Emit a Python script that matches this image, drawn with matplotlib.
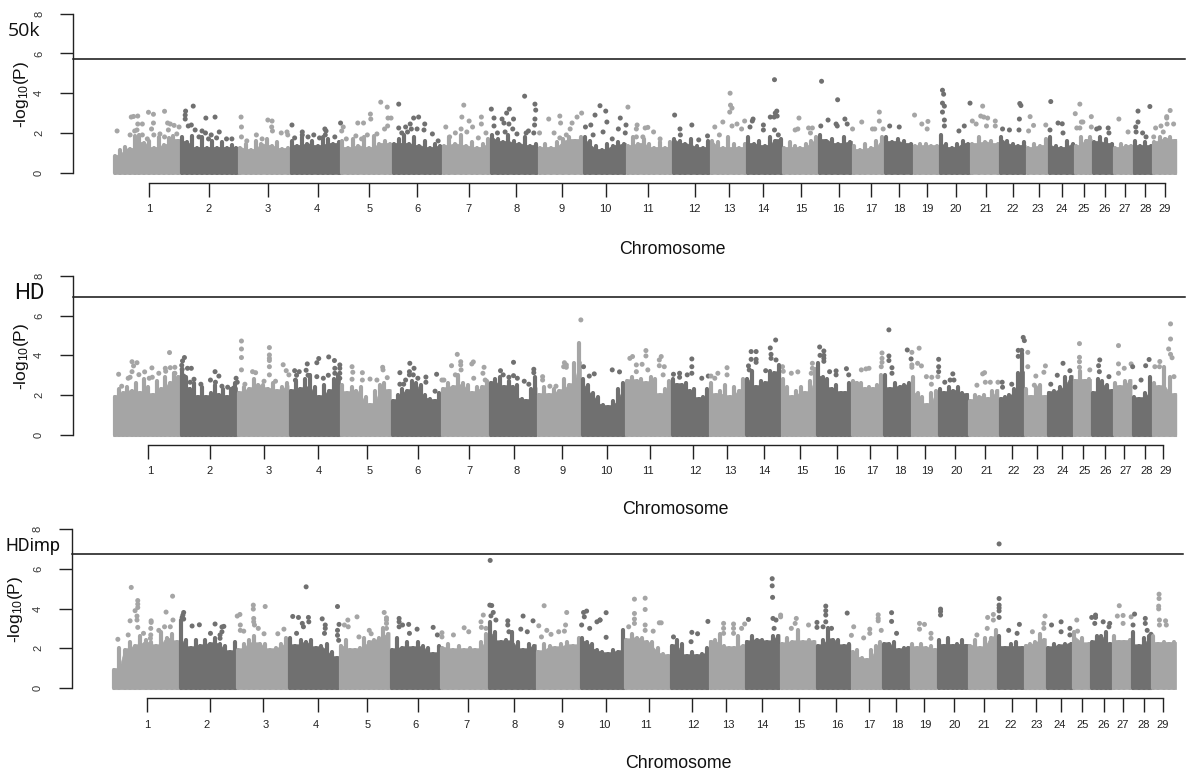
import matplotlib
matplotlib.use('Agg')
import matplotlib.pyplot as plt
import numpy as np

plt.rcParams['font.family'] = ['Liberation Sans', 'DejaVu Sans']
plt.rcParams['mathtext.default'] = 'regular'

LIGHT = '#a5a5a5'
DARK = '#707070'
chrom_names = [str(c) for c in range(1, 30)]

# chromosome limits, ticks and tick label spots (position units along the genome)
bounds_50k = [296,471,623,757,890,1024,1155,1281,1405,1523,1636,1756,1856,1951,2045,2138,2227,2310,2385,2454,2536,2612,2681,2739,2808,2854,2910,2961,3012,3075]
bounds_hd = [295,470,620,755,889,1022,1153,1278,1403,1519,1634,1754,1853,1948,2040,2134,2225,2308,2381,2451,2531,2610,2677,2736,2804,2852,2910,2958,3011,3075]
bounds_imp = [293,468,618,753,886,1019,1151,1275,1401,1517,1632,1751,1852,1946,2038,2132,2223,2306,2379,2449,2530,2607,2676,2734,2803,2850,2906,2957,3009,3073]

ticks_50k = [390,545,700,830,965,1091,1225,1349,1469,1583,1693,1815,1906,1995,2093,2192,2276,2349,2422,2499,2576,2647,2714,2775,2834,2888,2940,2991,3044]
ticks_hd = [387,550,690,832,960,1093,1225,1344,1468,1585,1698,1810,1901,1997,2091,2188,2273,2345,2417,2496,2575,2645,2710,2775,2831,2887,2938,2992,3040]
ticks_imp = [385,549,687,831,959,1092,1223,1343,1469,1583,1696,1809,1898,1992,2088,2186,2272,2342,2415,2494,2572,2644,2707,2772,2828,2885,2935,2990,3038]

labels_50k = [390,544,700,829,965,1090,1225,1349,1468,1583,1693,1815,1906,1995,2093,2191,2276,2349,2422,2498,2575,2647,2713,2774,2833,2887,2939,2995,3043]
labels_hd = [392,547,701,832,967,1092,1226,1351,1471,1585,1694,1817,1908,1998,2096,2194,2279,2352,2424,2500,2578,2649,2715,2776,2835,2889,2941,2997,3045]
labels_imp = [385,541,695,825,961,1087,1220,1345,1464,1580,1687,1811,1903,1991,2089,2188,2272,2346,2418,2494,2570,2642,2708,2770,2830,2883,2934,2989,3039]

# height of the cloud in each chromosome, left to right
mass_50k = [
 [.9,1.2,1.35,1.25,1.95,2.0,1.55,1.7,1.3,1.9,1.45,1.85,1.95,1.7],[1.9,1.6,1.95,1.3,1.9,1.3,1.7,1.3,1.6,1.3,1.45,1.3],
 [1.3,1.5,1.2,1.7,1.5,1.8,1.4,1.6,1.25,1.3],[1.7,1.4,1.9,1.5,1.7,1.4,1.9,1.8,1.5,1.6],[1.7,1.3,1.8,1.4,1.9,1.3,1.95,1.5,1.7,1.5],
 [1.5,1.8,2.0,1.5,1.9,1.4,1.7,1.3,1.5,1.4],[1.4,1.9,1.5,2.0,1.4,1.6,1.3,1.5,1.8],[2.0,1.8,1.6,2.0,1.7,1.5,1.9,1.4,1.5],
 [1.3,1.5,1.3,1.6,1.8,1.9,1.7,1.9],[1.9,1.7,1.4,1.2,1.5,1.4,1.6,1.5],[1.4,1.9,1.5,1.8,1.5,1.3,1.6,1.3,1.6],
 [1.8,1.7,1.5,1.8,1.4,1.3,1.7],[1.7,1.6,1.3,1.9,1.5,1.3,1.5],[1.9,1.5,1.7,1.4,1.9,1.7,1.8],[1.3,1.6,1.4,1.3,1.5,1.7,1.9],
 [2.0,1.7,1.8,1.5,1.9,1.6],[1.4,1.2,1.5,1.3,1.7,1.9],[1.9,1.6,1.8,1.7,1.5],[1.4,1.5,1.5,1.4,1.4],[2.0,1.5,1.3,1.5,1.7,1.5],
 [1.5,1.9,1.6,1.7,1.5],[1.9,1.7,1.5,1.4,1.6],[1.3,1.5,1.4,1.8],[1.9,1.4,1.3,1.7,1.5],[1.4,1.9,1.7,1.9],[1.6,1.9,1.8,1.5],
 [1.3,1.5,1.4,1.4],[1.7,1.4,1.6,1.4],[1.6,1.9,1.8,1.9,1.7]]
mass_hd = [
 [2.0,2.4,2.2,2.5,2.3,2.7,2.2,2.9,2.5,2.1,2.8,2.4,3.0,2.7,3.2,3.0],[3.4,3.0,2.4,2.7,2.0,2.5,2.0,2.2,2.6,2.1,2.4,2.0,2.4,2.7],
 [2.2,2.5,2.4,2.9,2.6,2.6,2.4,2.7,2.3,2.5,2.7],[2.3,2.8,2.4,2.9,3.1,2.5,2.0,2.6,2.3,2.9,3.1],
 [2.6,2.2,2.5,2.3,2.5,2.0,1.6,2.3,2.6,2.7,2.3],[1.8,2.1,2.4,2.3,2.8,2.7,2.6,2.1,1.9,1.8,2.2],
 [2.4,2.7,2.5,3.1,2.7,2.6,2.2,2.5,2.5,2.8],[2.7,2.9,3.0,2.5,2.8,2.5,2.6,1.9,1.8,2.4,3.0],
 [2.1,2.5,2.1,2.4,2.3,2.9,2.6,3.7,4.7],[2.9,2.6,2.2,2.0,1.6,1.5,1.8,2.4,2.7],
 [2.8,3.0,2.8,2.9,2.7,3.0,2.9,2.1,2.4,2.8],[2.9,2.6,2.6,2.7,2.3,2.4,1.9,2.0,2.4],
 [2.7,2.1,2.3,2.6,2.0,2.5,2.3,2.9],[2.9,3.3,2.5,2.8,2.7,3.3,3.2,3.6],[2.9,2.5,2.0,2.3,2.5,2.2,2.8,3.4],
 [3.7,3.0,2.9,2.4,2.6,2.2,2.2,2.7],[2.8,2.7,2.7,2.4,2.5,2.4,2.6,3.1],[3.1,2.4,2.7,2.5,2.6,2.7],
 [3.0,2.2,2.0,1.6,2.2,2.3],[2.4,2.2,2.5,2.3,2.5,2.2,2.1],[1.8,2.1,2.0,2.1,1.9,2.3,2.3],
 [1.9,2.0,2.1,2.4,3.2,4.2],[2.4,2.0,2.5,2.6,2.0],[2.2,2.3,2.5,3.0,3.0],[2.8,3.3,2.8,2.9],
 [2.2,2.9,2.8,2.6,2.3],[2.7,2.5,2.8,2.8],[2.0,1.9,2.2,3.0],[2.7,2.5,3.5,3.0,2.1]]
mass_imp = [
 [1.0,2.1,2.0,2.4,2.2,2.7,2.5,2.4,2.2,2.9,2.6,2.8,2.4],[3.5,2.5,2.1,2.5,2.2,2.5,2.3,2.6,2.3,2.2,1.9,2.4],
 [2.0,2.3,2.5,2.7,2.3,2.3,2.0,2.1,2.3,2.6],[2.6,2.2,2.5,2.4,2.5,2.1,2.2,2.3,1.9,1.6],
 [2.2,2.5,2.0,2.0,2.1,2.6,2.4,2.5,2.6,3.1,2.8],[2.0,2.6,2.1,2.4,2.1,2.4,2.2,2.1,1.8,2.2],
 [2.1,2.3,2.0,2.2,2.0,2.1,2.0,2.4,2.8],[3.4,2.9,2.4,2.5,2.9,2.4,2.0,2.3,2.2],
 [1.9,2.3,2.2,2.1,2.3,2.4,2.2,2.6],[2.6,2.4,2.3,2.0,1.9,1.8,2.0,1.9,3.0],
 [2.5,2.8,2.6,2.6,2.4,2.4,2.1,1.8,1.7],[2.2,2.5,2.3,1.7,1.9,1.7,1.8,2.1],[2.4,2.5,2.8,2.2,2.1,2.1,2.7,2.2],
 [2.4,2.7,2.5,2.5,2.4,2.7,2.7],[2.3,2.6,2.4,3.0,2.4,2.5,2.4],[2.2,2.5,3.1,2.5,2.5,2.2,2.3],
 [1.9,2.0,1.6,1.5,2.0,2.2,2.4],[2.3,2.3,2.4,2.0,2.1,2.1],[2.3,2.1,2.3,2.1,2.2,2.0],[2.5,2.2,2.6,2.2,2.3,2.5,2.2],
 [2.2,2.5,2.1,2.6,2.6,3.0],[2.7,2.1,2.3,2.4,2.1],[2.2,2.3,2.4,2.8,2.5],[2.1,2.3,2.2,2.3,2.3],[2.9,2.6,2.3],
 [2.4,2.7,2.7,2.9,2.3],[2.7,2.4,2.4,2.5],[2.9,2.2,2.6,2.7],[2.7,2.3,2.4,2.3,2.4]]

# single SNPs standing above the cloud: (position, -log10 P)
hits_50k = [(306,2.1),(343,2.8),(349,2.83),(360,2.85),(388,3.04),(401,2.94),(430,3.09),(360,2.45),(372,2.45),(401,2.5),(396,2.2),(438,2.5),(445,2.45),(455,2.38),(468,2.3),(440,2.15),
 (340,1.9),(352,2.1),(358,2.15),(372,1.9),(385,1.7),(402,1.9),(418,1.95),(430,1.8),(450,1.7),(462,1.95),
 (485,3.1),(484,2.9),(484,2.7),(505,3.35),(538,2.75),(562,2.8),(492,2.35),(500,2.4),(510,2.15),(528,2.1),(537,2.0),(552,1.9),(573,2.05),(592,1.7),(606,1.7),(520,1.8),(545,1.7),(566,1.75),
 (630,2.8),(631,2.3),(631,1.8),(700,2.65),(711,2.6),(710,2.3),(712,2.1),(735,2.0),(750,2.05),(752,1.9),(670,1.9),(645,1.6),(685,1.7),
 (763,2.4),(790,2.05),(790,1.9),(820,1.9),(849,2.2),(852,2.1),(850,1.9),(890,2.5),(897,2.3),(893,2.1),(875,1.8),(770,1.75),(805,1.8),(835,1.75),
 (935,2.5),(950,2.5),(968,2.95),(969,2.7),(995,3.55),(1012,3.3),(1014,2.75),(1022,2.75),(1013,2.35),(1005,2.2),(905,1.7),(930,1.85),(960,1.9),(985,1.95),(945,1.7),
 (1042,3.45),(1042,2.25),(1060,2.3),(1072,2.45),(1081,2.75),(1094,2.8),(1110,2.45),(1108,2.15),(1130,1.95),(1090,2.2),(1050,2.0),(1065,2.05),(1075,2.2),(1145,1.6),
 (1212,3.4),(1207,2.8),(1226,2.6),(1235,2.3),(1258,2.8),(1258,2.45),(1165,2.3),(1190,2.0),(1205,2.2),(1220,2.05),(1270,2.0),(1175,1.8),(1250,1.75),
 (1284,3.2),(1291,2.75),(1291,2.35),(1331,3.2),(1324,3.0),(1312,2.7),(1342,2.7),(1317,2.5),(1330,2.45),(1340,2.2),(1351,1.95),(1371,3.85),(1398,3.45),(1400,3.15),(1398,2.7),(1397,2.4),(1381,2.1),(1395,2.0),(1410,2.0),(1375,2.0),(1300,2.0),(1320,2.05),
 (1434,2.7),(1463,2.85),(1520,3.0),(1508,2.8),(1495,2.5),(1465,2.5),(1448,2.0),(1463,1.75),(1490,2.2),(1480,1.9),
 (1555,2.9),(1568,3.37),(1544,2.4),(1530,2.3),(1583,3.1),(1586,2.55),(1621,2.75),(1616,2.2),(1636,2.4),(1634,2.0),(1576,2.05),(1550,1.9),(1600,1.7),
 (1641,3.3),(1665,2.4),(1686,2.25),(1693,2.28),(1708,2.05),(1663,2.2),(1663,1.8),(1680,1.8),(1725,1.7),
 (1763,2.9),(1777,2.2),(1808,2.4),(1778,1.9),(1849,1.85),(1826,1.65),(1908,4.0),(1909,3.4),(1913,3.25),(1907,3.05),(1868,2.3),(1889,2.55),(1913,2.35),(1926,2.45),(1946,2.6),(1938,2.2),(1880,1.9),
 (1968,2.7),(1966,2.6),(1960,2.3),(1995,2.4),(1995,2.15),(2024,4.68),(2030,3.1),(2026,3.0),(2031,2.85),(2023,2.8),(2013,2.8),(2024,2.15),(2034,1.9),
 (2088,2.75),(2078,2.15),(2085,2.2),(2113,2.25),(2123,2.25),(2118,2.0),(2147,4.6),(2189,3.67),(2164,2.65),(2145,2.35),(2208,2.7),(2185,2.45),(2188,2.35),(2214,2.45),(2228,2.2),
 (2252,2.55),(2298,3.05),(2298,2.6),(2280,2.2),(2286,2.2),(2308,2.2),(2325,2.35),(2350,2.3),(2390,2.9),(2425,2.58),(2409,2.45),(2423,2.2),
 (2463,4.15),(2466,3.95),(2463,3.5),(2468,3.35),(2463,3.05),(2468,2.65),(2468,2.35),(2535,3.5),(2541,2.6),(2520,2.35),(2506,2.1),
 (2568,3.35),(2563,2.85),(2571,2.8),(2581,2.75),(2601,2.6),(2601,2.35),(2551,2.45),(2578,2.35),(2665,3.48),(2668,3.38),(2664,2.7),(2638,2.15),(2620,2.2),(2663,2.15),
 (2692,2.82),(2701,2.38),(2733,2.4),(2688,2.1),(2746,3.58),(2744,2.15),(2765,2.5),(2776,2.46),(2778,2.0),(2810,2.97),(2822,3.45),(2826,2.55),(2830,2.55),(2852,2.82),(2814,2.25),(2822,2.25),(2852,2.3),
 (2866,2.2),(2896,2.25),(2873,2.25),(2898,2.0),(2924,2.7),(2948,2.05),(2974,3.1),(2974,2.55),(2968,2.3),(3005,3.33),(2969,2.05),(2986,2.0),(2995,1.8),(3015,1.8),
 (3020,2.25),(3034,2.35),(3049,2.82),(3049,2.75),(3058,3.13),(3050,2.45),(3067,2.45),(3040,2.05)]
hits_hd = [(310,3.05),(318,2.45),(335,2.85),(345,3.68),(349,3.47),(358,3.63),(345,3.18),(340,2.9),(363,3.03),(378,3.17),(397,3.37),(390,2.85),(398,2.9),(415,3.1),(432,3.35),(443,4.14),(445,3.38),(433,3.2),(457,3.4),(457,3.1),
 (482,3.89),(477,3.72),(475,3.5),(476,3.3),(480,2.96),(500,3.35),(490,3.35),(485,2.8),(507,2.8),(497,2.65),(525,2.55),(550,2.76),(562,3.18),(572,2.96),(563,2.65),(595,2.4),(580,2.45),(610,2.35),(617,2.85),(620,2.65),
 (631,4.72),(631,4.32),(631,3.89),(631,3.27),(640,2.55),(660,3.18),(668,3.13),(704,4.39),(704,4.02),(704,3.85),(704,3.74),(704,3.43),(704,3.02),(690,2.7),(720,2.7),(740,3.53),(748,3.23),(755,3.02),
 (770,3.23),(782,3.18),(803,3.57),(772,2.75),(775,3.0),(800,3.25),(805,3.0),(828,3.63),(833,3.84),(828,2.93),(845,2.85),(859,3.92),(874,3.74),(888,3.52),(888,3.35),(875,3.35),(875,3.1),(888,3.1),(858,3.0),(888,2.85),
 (920,3.43),(922,3.15),(947,3.13),(920,2.8),(947,2.76),(967,2.81),(1000,3.4),(1001,3.27),(985,2.76),(1012,2.88),
 (1071,3.6),(1045,3.13),(1082,3.35),(1070,3.18),(1070,3.02),(1080,3.02),(1045,2.55),(1055,2.55),(1060,2.76),(1092,2.85),(1113,2.91),(1113,2.65),(1141,3.05),(1137,2.2),(1155,2.76),(1160,2.76),
 (1195,4.05),(1180,3.48),(1204,3.68),(1204,3.52),(1205,3.27),(1190,3.02),(1237,3.67),(1233,3.57),(1238,2.85),(1265,3.4),(1262,3.1),(1268,2.76),
 (1342,3.65),(1308,3.23),(1315,3.02),(1330,2.9),(1342,2.98),(1352,2.85),(1370,2.7),(1382,2.55),(1395,3.3),(1395,3.13),(1418,2.93),(1418,2.76),(1437,2.45),(1453,2.45),
 (1475,3.63),(1480,3.52),(1473,3.43),(1480,3.4),(1518,5.78),(1525,3.43),(1540,2.96),(1553,3.07),
 (1600,3.27),(1619,3.17),(1646,3.85),(1653,3.94),(1663,3.52),(1678,3.55),(1663,3.18),(1688,4.24),(1688,3.97),(1693,3.27),(1723,3.77),(1728,3.94),(1723,3.48),(1736,3.43),(1733,3.02),
 (1760,3.05),(1776,3.1),(1776,2.9),(1796,3.02),(1808,3.82),(1808,3.43),(1808,3.1),(1834,2.85),(1851,2.96),(1858,2.96),(1876,3.1),(1900,3.38),(1900,3.02),(1868,2.85),
 (1963,4.19),(1976,4.19),(1963,3.8),(1976,3.8),(1976,3.65),(1956,3.47),(1958,3.27),(2013,4.37),(2015,4.05),(2015,3.85),(2027,4.77),(2028,3.77),(2001,3.23),
 (2045,3.43),(2047,3.2),(2068,3.1),(2085,3.17),(2123,3.6),(2123,3.35),(2120,3.1),
 (2142,4.42),(2153,4.22),(2143,4.0),(2153,4.0),(2153,3.85),(2153,3.7),(2168,3.18),(2185,3.22),(2185,3.02),(2212,3.33),(2218,3.02),
 (2251,3.27),(2271,3.35),(2263,3.32),(2305,4.12),(2305,3.85),(2305,3.65),(2303,3.43),
 (2323,5.28),(2323,3.97),(2323,3.74),(2331,3.38),(2331,3.1),(2371,4.27),(2383,4.15),(2381,3.82),(2383,3.52),(2383,3.4),(2402,4.36),(2398,3.6),(2408,3.47),
 (2453,3.8),(2453,3.43),(2453,3.18),(2421,2.93),(2435,2.9),(2434,2.55),(2451,2.93),(2469,2.65),(2490,3.07),(2483,2.76),(2493,2.76),
 (2568,3.07),(2573,3.13),(2553,2.5),(2575,2.65),(2588,2.65),(2608,2.65),(2619,2.65),(2620,2.4),(2644,2.55),(2674,4.9),(2677,4.74),(2661,4.25),(2686,4.15),(2686,3.43),(2670,4.25),(2661,3.95),
 (2707,2.96),(2728,3.15),(2732,3.47),(2703,2.5),(2778,3.6),(2746,2.55),(2763,3.0),(2796,3.23),
 (2821,4.59),(2821,3.9),(2821,3.68),(2821,3.4),(2848,3.27),(2874,3.77),(2871,3.48),(2873,3.18),(2898,2.93),
 (2923,4.49),(2923,3.57),(2923,3.1),(2956,3.57),(2960,3.43),(2938,3.35),(3003,3.79),(2994,3.48),(2982,2.76),(2966,2.4),(3018,3.43),(3031,3.69),(3030,3.43),
 (3059,5.58),(3059,4.82),(3054,4.32),(3059,4.05),(3063,3.88),(3068,2.93)]
hits_imp = [(308,2.45),(343,5.06),(340,3.38),(360,4.4),(360,4.22),(360,4.05),(353,3.89),(358,3.62),(358,3.42),(360,3.05),(395,3.38),(395,3.3),(394,3.0),(394,2.67),(393,2.5),(434,3.82),(430,3.08),(445,3.08),(451,4.62),(452,3.42),(375,2.75),(335,2.67),(415,2.9),
 (480,3.8),(478,3.67),(476,3.55),(480,3.47),(502,3.12),(521,3.18),(562,3.22),(585,3.1),(580,3.07),(580,2.83),(575,2.67),(575,2.5),(550,2.75),
 (620,3.62),(627,3.7),(628,3.17),(628,2.9),(637,2.86),(662,4.17),(662,3.97),(663,3.5),(663,3.33),(665,3.17),(675,3.0),(693,4.1),(690,2.73),(726,2.73),(742,2.96),
 (765,3.6),(780,3.55),(806,3.55),(807,3.33),(790,3.25),(793,3.08),(775,2.75),(800,5.09),(842,3.48),(850,3.17),(850,3.0),(848,2.75),(882,4.1),(886,3.2),(882,2.9),(882,2.65),(885,2.4),
 (909,3.42),(900,3.17),(910,3.08),(933,3.58),(938,2.57),(965,2.9),(970,2.73),(1004,3.8),(1010,3.53),(1010,3.42),(1010,3.25),(1010,3.0),
 (1043,3.5),(1043,3.33),(1052,3.17),(1043,3.08),(1068,3.2),(1090,2.96),(1132,3.05),(1155,2.78),(1143,2.67),(1155,2.57),(1070,2.75),
 (1213,3.03),(1185,2.67),(1225,2.83),(1258,3.05),(1263,3.67),(1257,3.33),(1270,3.0),
 (1281,6.42),(1280,4.17),(1285,4.15),(1289,3.8),(1283,3.63),(1296,3.42),(1327,3.38),(1327,3.17),(1367,3.62),(1393,3.38),(1361,2.96),(1378,2.83),(1330,2.83),
 (1422,4.14),(1408,3.13),(1429,2.9),(1481,3.8),(1478,3.17),(1415,2.57),(1440,2.7),(1460,2.83),(1475,2.86),
 (1525,3.8),(1533,3.87),(1527,3.58),(1520,3.17),(1541,3.0),(1560,3.33),(1568,3.42),(1584,3.79),(1568,3.42),(1584,2.55),
 (1643,3.08),(1658,4.47),(1658,3.75),(1658,3.47),(1658,3.25),(1686,4.52),(1686,3.95),(1686,3.17),(1686,2.9),(1707,2.86),(1723,3.28),(1728,3.28),
 (1808,2.8),(1823,2.73),(1850,3.35),(1760,2.57),(1806,2.33),(1891,3.25),(1891,3.0),(1891,2.75),(1917,3.22),(1917,3.0),(1917,2.75),(1946,3.22),(1956,3.45),(1938,3.0),
 (2018,5.5),(2018,5.14),(2019,4.56),(2040,3.67),(2040,3.58),(2020,3.5),(2028,3.42),(2023,3.0),
 (2081,3.5),(2078,3.25),(2068,3.0),(2113,3.17),(2135,3.3),(2135,3.05),(2158,4.12),(2158,3.89),(2158,3.67),(2158,3.33),(2173,3.0),(2151,3.08),(2214,3.77),(2225,2.65),(2231,3.08),
 (2273,2.96),(2273,2.75),(2295,3.68),(2295,3.5),(2295,3.38),(2303,2.9),(2257,2.52),
 (2330,3.79),(2330,3.35),(2343,2.75),(2403,3.25),(2416,3.2),(2403,2.96),(2433,2.75),(2433,2.5),(2458,3.97),(2458,3.85),(2458,3.67),
 (2611,7.25),(2611,4.5),(2611,4.17),(2611,4.03),(2611,3.88),(2611,3.55),(2596,3.7),(2596,3.42),(2581,3.55),(2580,3.0),(2553,2.67),
 (2636,2.9),(2664,3.2),(2658,2.75),(2698,2.83),(2731,3.62),(2728,3.25),(2728,3.0),(2748,3.17),(2773,3.33),(2773,2.83),(2796,3.0),(2796,2.67),
 (2814,3.42),(2816,2.86),(2853,3.55),(2863,3.67),(2863,3.55),(2861,3.25),(2900,3.25),(2883,3.33),(2898,3.08),
 (2925,4.14),(2920,3.62),(2935,3.65),(2935,3.25),(2956,3.58),(2965,3.72),(2961,3.17),(2993,3.5),(2993,3.25),(3008,2.7),(2998,2.9),
 (3029,4.72),(3029,4.5),(3028,4.12),(3028,3.98),(3030,3.42),(3030,3.17),(3046,3.38),(3048,3.17)]

# genome-wide thresholds and panel names
thresholds = [5.74, 6.93, 6.76]
panel_names = ['50k', 'HD', 'HDimp']

fig = plt.figure(figsize=(12, 7.81), dpi=100)


def panel(y0, y8, bounds, ticks, label_x, mass, hits, thr, name, spine_x, line_end,
          name_x, name_size, name_font, xlab_x, xlab_px, ylab_x):
    ax = fig.add_axes([0, 1 - y0/781, 1, (y0 - y8)/781])
    ax.set_xlim(0, 3136)
    ax.set_ylim(0, 8)
    ax.patch.set_alpha(0)
    per_val = (y0 - y8)/8

    # solid body up to the lower neighbour, then a column at every reading
    for i, top in enumerate(mass):
        col = LIGHT if i % 2 == 0 else DARK
        top = np.array(top)
        xs = np.linspace(bounds[i] + 5, bounds[i+1] - 5, len(top))
        body = top.copy()
        body[1:] = np.minimum(body[1:], top[:-1])
        body[:-1] = np.minimum(body[:-1], top[1:])
        ax.fill_between([bounds[i] + 1] + list(xs) + [bounds[i+1] - 1],
                        -0.06, [body[0]] + list(body) + [body[-1]],
                        color=col, lw=0.5, clip_on=False)
        ax.vlines(xs, 0, top - 0.08, color=col, lw=3.0, capstyle='round', clip_on=False)

    hx = np.array([h[0] for h in hits])
    hy = np.array([h[1] for h in hits])
    idx = np.searchsorted(bounds, hx) - 1
    cols = [LIGHT if k % 2 == 0 else DARK for k in idx]
    ax.scatter(hx, hy, s=13, c=cols, lw=0, clip_on=False)

    ax.plot([spine_x, line_end], [thr, thr], color='#111111', lw=1.1, clip_on=False)

    for s in ['top', 'right']:
        ax.spines[s].set_visible(False)
    ax.spines['left'].set_position(('data', spine_x))
    ax.spines['left'].set_bounds(0, 8)
    ax.spines['bottom'].set_position(('data', -10.3/per_val))
    ax.spines['bottom'].set_bounds(ticks[0], ticks[-1])
    for s in ['left', 'bottom']:
        ax.spines[s].set_linewidth(1.0)
        ax.spines[s].set_color('#222222')

    ax.set_yticks([0, 2, 4, 6, 8])
    ax.set_yticklabels(['0', '2', '4', '6', '8'], rotation=90, va='center', fontsize=8, color='#333333')
    ax.tick_params(axis='y', length=9.6, width=1.0, color='#222222', pad=11)
    ax.set_xticks(ticks)
    ax.set_xticklabels([])
    ax.tick_params(axis='x', length=10, width=1.0, color='#222222')
    for lab, x in zip(chrom_names, label_x):
        ax.text(x, -36.5/per_val, lab, ha='center', va='center', fontsize=8, color='#222222', clip_on=False)

    ax.text(xlab_x, -xlab_px/per_val, 'Chromosome', ha='center', va='center', fontsize=12.8, color='#111111', clip_on=False)
    ax.text(ylab_x, 3.95, '-log$_{10}$(P)', rotation=90, ha='center', va='center', fontsize=12.5, color='#111111', clip_on=False)
    ax.text(name_x, 7.13, name, ha='center', va='center', fontsize=name_size, family=name_font, color='#111111', clip_on=False)


panel(172.7, 13.7, bounds_50k, ticks_50k, labels_50k, mass_50k, hits_50k, thresholds[0], panel_names[0],
      190, 3098, 63, 14, 'Open Sans', 190+1568, 76.5, 55)
panel(435, 275.7, bounds_hd, ticks_hd, labels_hd, mass_hd, hits_hd, thresholds[1], panel_names[1],
      190, 3098, 77, 16, 'Roboto', 198+1568, 75, 55)
panel(688, 529, bounds_imp, ticks_imp, labels_imp, mass_imp, hits_imp, thresholds[2], panel_names[2],
      187, 3091, 85, 13, 'Roboto', 205+1568, 75, 40)

fig.savefig('out.png', dpi=100)
